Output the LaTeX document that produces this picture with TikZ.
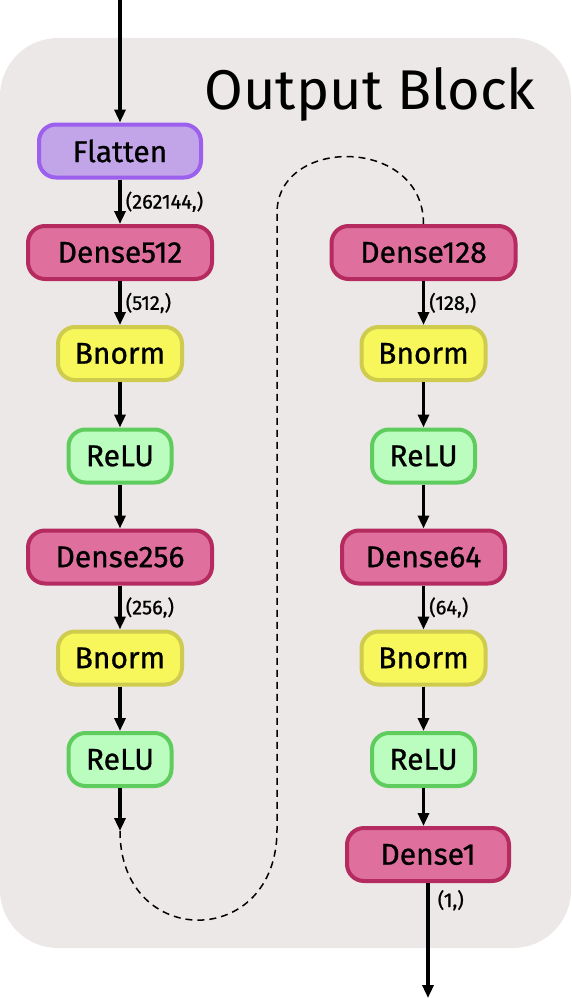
\documentclass[tikz,border=0pt]{standalone}
\usepackage{fontspec}
\setmainfont{Fira Sans}
\newfontfamily\boite{Fira Sans}[FakeBold=0.8]
\usetikzlibrary{arrows.meta}
\definecolor{fond}{HTML}{ECE8E7}
\definecolor{rose}{HTML}{DF709E}
\definecolor{roseb}{HTML}{B52A5F}
\definecolor{jaune}{HTML}{F7F75C}
\definecolor{jauneb}{HTML}{CFCB4E}
\definecolor{vert}{HTML}{BBFDBF}
\definecolor{vertb}{HTML}{5FCC5E}
\definecolor{violet}{HTML}{C1A5E8}
\definecolor{violetb}{HTML}{9C5FEE}

\begin{document}
\begin{tikzpicture}[x=1pt, y=-1pt,
    blk/.style={rounded corners=17pt, line width=4pt, minimum height=53pt, inner sep=0pt,
      font=\boite\fontsize{30}{32}\selectfont},
    dense/.style={blk, fill=rose, draw=roseb, minimum width=184pt},
    bnorm/.style={blk, fill=jaune, draw=jauneb, minimum width=124pt},
    relu/.style={blk, fill=vert, draw=vertb, minimum width=103pt},
    fleche/.style={line width=3.5pt, -{Triangle[length=13pt,width=11pt]}},
    forme/.style={right, font=\boite\fontsize{20}{22}\selectfont, inner sep=4pt}]
    \useasboundingbox (0,0) rectangle (571,998);
    \fill[fond, rounded corners=58pt] (0,38) rectangle (571,948);
    \node[font=\fontsize{56}{60}\selectfont, anchor=base] (titre) at (370,109) {Output Block};
    % colonne gauche
    \coordinate (entree) at (120,0);
    \node[blk, fill=violet, draw=violetb, minimum width=162pt] (flat) at (120,151) {Flatten};
    \node[dense] (d512) at (120,252.5) {Dense512};
    \node[bnorm] (bn1) at (120,353.5) {Bnorm};
    \node[relu] (re1) at (120,456) {ReLU};
    \node[dense] (d256) at (120,557) {Dense256};
    \node[bnorm] (bn2) at (120,658) {Bnorm};
    \node[relu] (re2) at (120,759.5) {ReLU};
    \coordinate (gfin) at (120,831);
    % colonne droite
    \node[dense] (d128) at (423.5,252.5) {Dense128};
    \node[bnorm] (bn3) at (423.5,353.5) {Bnorm};
    \node[relu] (re3) at (423.5,456) {ReLU};
    \node[dense, minimum width=163pt] (d64) at (423.5,557) {Dense64};
    \node[bnorm] (bn4) at (423.5,658) {Bnorm};
    \node[relu] (re4) at (423.5,759.5) {ReLU};
    \node[dense, minimum width=162pt] (d1) at (428,854.5) {Dense1};
    \coordinate (sortie) at (428,998);

    \draw[fleche] (entree) -- (flat);
    \draw[fleche] (flat) -- node[forme] {(262144,)} (d512);
    \draw[fleche] (d512) -- node[forme] {(512,)} (bn1);
    \draw[fleche] (bn1) -- (re1);
    \draw[fleche] (re1) -- (d256);
    \draw[fleche] (d256) -- node[forme] {(256,)} (bn2);
    \draw[fleche] (bn2) -- (re2);
    \draw[fleche] (re2) -- (gfin);
    \draw[line width=1.5pt, dash pattern=on 7pt off 5pt] (gfin)
      .. controls (120,950) and (277,950) .. (277,830) -- (277,213)
      .. controls (277,136) and (423.5,136) .. (d128.north);
    \draw[fleche] (d128) -- node[forme] {(128,)} (bn3);
    \draw[fleche] (bn3) -- (re3);
    \draw[fleche] (re3) -- (d64);
    \draw[fleche] (d64) -- node[forme] {(64,)} (bn4);
    \draw[fleche] (bn4) -- (re4);
    \draw[fleche] (re4) -- (re4 |- d1.north);
    \draw[fleche] (d1) -- node[forme, pos=0.15, inner sep=8pt] {(1,)} (sortie);
\end{tikzpicture}
\end{document}
